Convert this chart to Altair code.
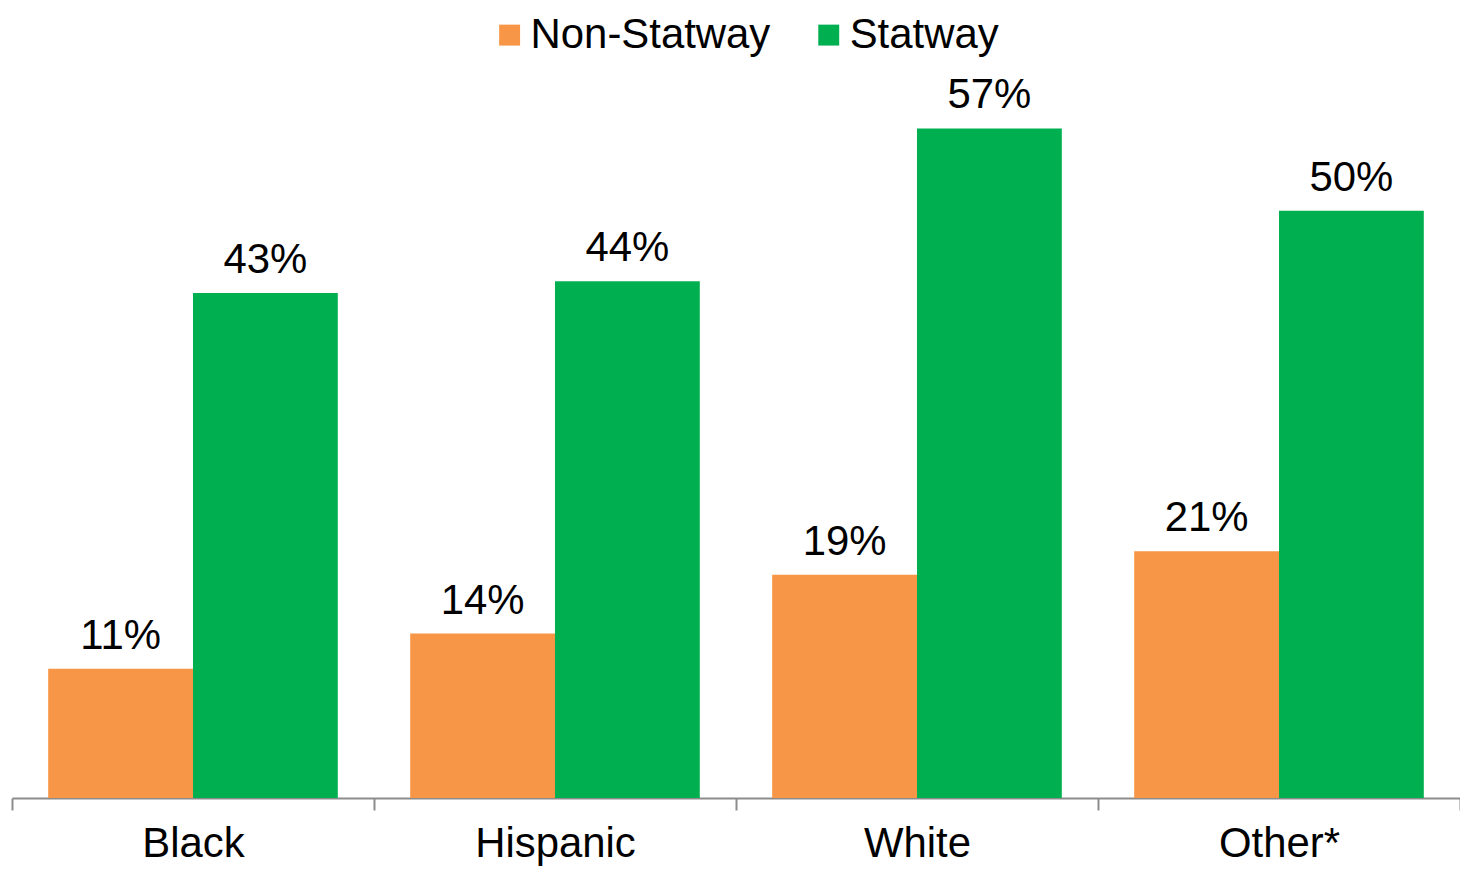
import altair as alt
import pandas as pd

categories = ["Black", "Hispanic", "White", "Other*"]
series_names = ["Non-Statway", "Statway"]
non_statway = [11, 14, 19, 21]
statway = [43, 44, 57, 50]
colors = ["#F79646", "#00B050"]

rows = []
for i, c in enumerate(categories):
    for s, vals in zip(series_names, [non_statway, statway]):
        rows.append({"category": c, "series": s, "value": vals[i], "label": f"{vals[i]}%"})
df = pd.DataFrame(rows)

FONT = "Liberation Sans"

x = alt.X("category:N", sort=categories, title=None,
          scale=alt.Scale(paddingInner=0, paddingOuter=0),
          axis=alt.Axis(labelAngle=0, tickBand="extent", domainColor="#8C8C8C",
                        domainWidth=2, tickColor="#8C8C8C", tickWidth=2, tickSize=12,
                        labelFontSize=42, labelFont=FONT, labelColor="#000000",
                        labelPadding=47, labelBaseline="alphabetic", grid=False))
xo = alt.XOffset("series:N", sort=series_names,
                 scale=alt.Scale(paddingOuter=0.25, paddingInner=0))
y = alt.Y("value:Q", scale=alt.Scale(domain=[0, 67.15], nice=False, zero=True), axis=None)

bars = alt.Chart(df).mark_bar().encode(
    x=x, xOffset=xo, y=y,
    color=alt.Color("series:N", sort=series_names,
                    scale=alt.Scale(domain=series_names, range=colors),
                    legend=alt.Legend(orient="none", legendX=478, legendY=5,
                                      direction="horizontal", title=None,
                                      symbolType="square", symbolSize=441,
                                      symbolStrokeWidth=0, symbolOpacity=1,
                                      labelFontSize=42, labelFont=FONT,
                                      labelColor="#000000", labelOffset=0,
                                      columnPadding=37, padding=0, labelLimit=400)),
)

text = alt.Chart(df).mark_text(fontSize=42, font=FONT, color="#000000",
                               baseline="alphabetic", dy=-20).encode(
    x=x, xOffset=xo, y=y, text="label:N"
)

chart = (bars + text).properties(
    width=1452, height=791,
    padding={"left": 4, "top": 0, "right": 0, "bottom": 68},
    autosize=alt.AutoSizeParams(type="none"),
).configure_view(stroke=None)

chart.save("out.html", embed_options={"renderer": "svg", "actions": False})
